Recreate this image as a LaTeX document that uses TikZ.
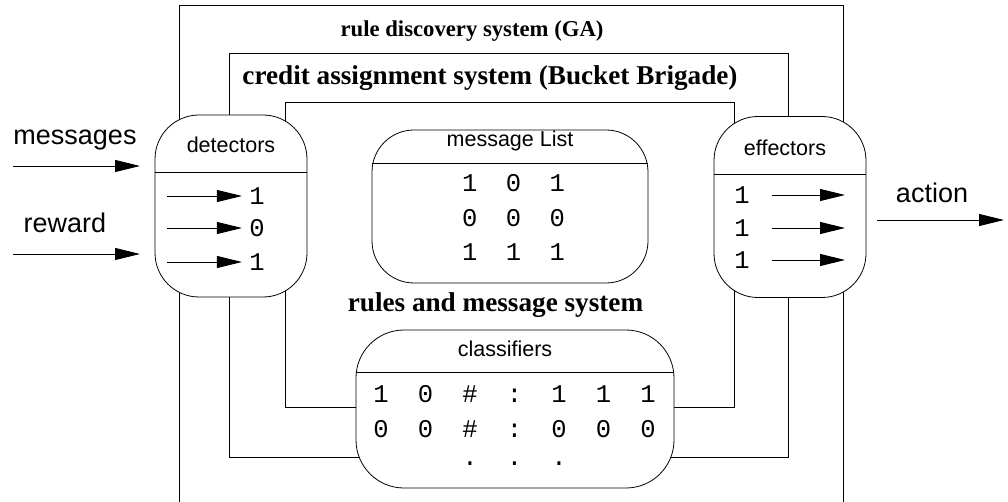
\documentclass[tikz,border=0pt]{standalone}
\usepackage{fontspec}
\setmainfont{Liberation Serif}
\newfontfamily\sansf{Liberation Sans}
\newfontfamily\monof{Liberation Mono}
\usetikzlibrary{arrows.meta}
\pgfdeclarelayer{background}
\pgfsetlayers{background,main}
\newcommand{\cg}{\hspace{29.2pt}}
\newcommand{\mg}{\hspace{28.5pt}}
\begin{document}
\begin{tikzpicture}[x=1pt,y=-1pt,line width=0.8pt,
  box/.style={draw,fill=white,inner sep=0pt},
  sepline/.style={line width=0.8pt},
  frame/.style={line width=0.8pt},
  biglbl/.style={font=\sansf\fontsize{27}{30}\selectfont,inner sep=0pt,anchor=base},
  boxlbl/.style={font=\sansf\fontsize{21.5}{24}\selectfont,inner sep=0pt,anchor=base},
  digit/.style={font=\monof\fontsize{25.5}{28}\selectfont,inner sep=0pt},
  title/.style={font=\bfseries\fontsize{27.2}{30}\selectfont,inner sep=0pt,anchor=base},
  arr/.style={line width=0.9pt,-{Triangle[length=25pt,width=12pt]}}]
\useasboundingbox (0,0) rectangle (1008,502);

% boxes
\node[box,rounded corners=44pt,minimum width=152pt,minimum height=182pt] (det) at (231,206) {};
\node[box,rounded corners=44pt,minimum width=152pt,minimum height=181pt] (eff) at (790,207) {};
\node[box,rounded corners=42pt,minimum width=276pt,minimum height=153pt] (ml) at (510,206.5) {};
\node[box,rounded corners=48pt,minimum width=318pt,minimum height=158pt] (cls) at (515,409) {};

\draw[sepline] (det.west |- 0,172) -- (det.east |- 0,172);
\draw[sepline] (eff.west |- 0,174) -- (eff.east |- 0,174);
\draw[sepline] (ml.west |- 0,163) -- (ml.east |- 0,163);
\draw[sepline] (cls.west |- 0,372) -- (cls.east |- 0,372);

% box labels
\node[boxlbl] (detl) at (231,153) {detectors};
\node[boxlbl] (effl) at (785,156) {effectors};
\node[boxlbl] (mll) at (510,147) {message List};
\node[boxlbl] (clsl) at (505,356) {classifiers};

% titles
\node[title,font=\bfseries\fontsize{22.7}{26}\selectfont] (t1) at (472,37) {rule discovery system (GA)};
\node[title] (t2) at (490,85) {credit assignment system (Bucket Brigade)};
\node[title] (t3) at (495.5,312) {rules and message system};

% outside labels
\node[biglbl] (msg) at (75,145) {messages};
\node[biglbl] (rew) at (65,233) {reward};
\node[biglbl] (act) at (932,203) {action};

\coordinate (m0) at (13,166); \coordinate (m1) at (140,166);
\coordinate (r0) at (13,254); \coordinate (r1) at (140,254);
\coordinate (a0) at (877,220); \coordinate (a1) at (1004,220);
\draw[arr] (m0) -- (m1);
\draw[arr] (r0) -- (r1);
\draw[arr] (a0) -- (a1);

% detector digits and arrows
\node[digit] (d1) at (257,196) {1};
\node[digit] (d2) at (257,228) {0};
\node[digit] (d3) at (257,262) {1};
\coordinate (da1) at (167,196); \coordinate (da2) at (167,228); \coordinate (da3) at (167,262);
\draw[arr] (da1) -- ([xshift=-7pt]d1.west);
\draw[arr] (da2) -- ([xshift=-7pt]d2.west);
\draw[arr] (da3) -- ([xshift=-7pt]d3.west);

% effector digits and arrows
\node[digit] (e1) at (742,195) {1};
\node[digit] (e2) at (742,228) {1};
\node[digit] (e3) at (742,260) {1};
\coordinate (ea1) at (845,195); \coordinate (ea2) at (845,228); \coordinate (ea3) at (845,260);
\draw[arr] ([xshift=22pt]e1.east) -- (ea1);
\draw[arr] ([xshift=22pt]e2.east) -- (ea2);
\draw[arr] ([xshift=22pt]e3.east) -- (ea3);

% message list rows
\node[digit] (ml1) at (513.5,183) {1\mg0\mg1};
\node[digit] (ml2) at (513.5,218) {0\mg0\mg0};
\node[digit] (ml3) at (513.5,252) {1\mg1\mg1};

% classifier rows
\node[digit,anchor=base] (c1) at (514.5,402.5) {1\cg0\cg\#\cg:\cg1\cg1\cg1};
\node[digit,anchor=base] (c2) at (514.5,437.5) {0\cg0\cg\#\cg:\cg0\cg0\cg0};
\node[digit,anchor=base] (c3) at (514.5,465) {.\cg.\cg.};

% frames
\coordinate (oTL) at (179,5); \coordinate (oTR) at (843,5);
\coordinate (oBL) at (179,502); \coordinate (oBR) at (843,502);
\coordinate (cTL) at (229,53); \coordinate (cTR) at (788,53);
\coordinate (cBL) at (229,457); \coordinate (cBR) at (788,457);
\coordinate (iTL) at (285,102); \coordinate (iTR) at (734,102);
\coordinate (iBL) at (285,407); \coordinate (iBR) at (734,407);
\begin{pgfonlayer}{background}
\fill[white] (0,0) rectangle (1008,502);
\draw[frame] (oBL) -- (oTL) -- (oTR) -- (oBR);
\draw[frame] (cls.center |- cBL) -- (cBL) -- (cTL) -- (cTR) -- (cBR) -- (cls.center |- cBR);
\draw[frame] (cls.center |- iBL) -- (iBL) -- (iTL) -- (iTR) -- (iBR) -- (cls.center |- iBR);
\end{pgfonlayer}
\end{tikzpicture}
\end{document}
